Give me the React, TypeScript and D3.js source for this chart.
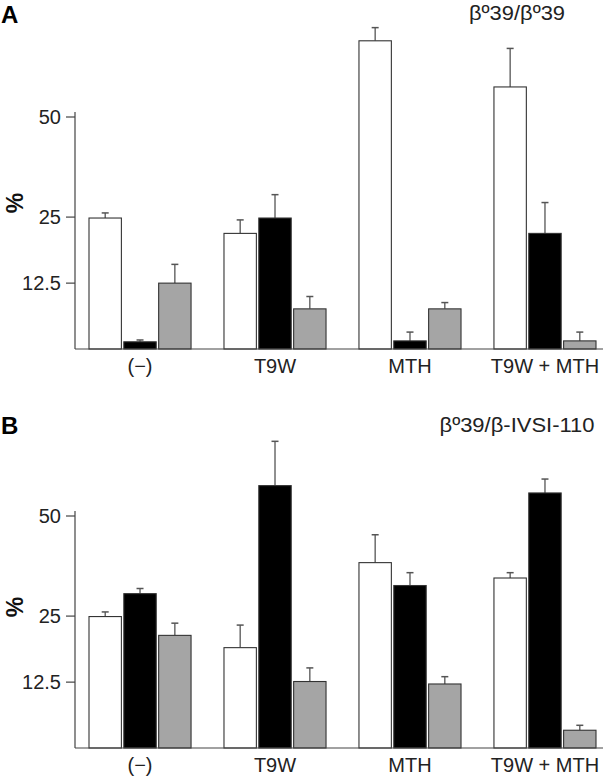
import React from "react";
import * as d3 from "d3";

const categories = ["(−)", "T9W", "MTH", "T9W + MTH"];
const seriesKeys = ["white", "black", "gray"];
const seriesColors = ["#ffffff", "#000000", "#a5a5a5"];
const tickValues = [12.5, 25, 50];
const tickLabels = ["12.5", "25", "50"];

// Panel A: β°39/β°39
const aWhite = [24.8, 21.6, 73.4, 58.8];
const aWhiteErr = [1.1, 2.8, 4.4, 12.1];
const aBlack = [4.5, 24.8, 4.6, 21.6];
const aBlackErr = [0.2, 5.2, 1.0, 6.6];
const aGray = [12.5, 8.6, 8.6, 4.6];
const aGrayErr = [3.2, 1.8, 0.9, 1.0];

// Panel B: β°39/β-IVSI-110
const bWhite = [24.9, 18.6, 37.5, 33.7];
const bWhiteErr = [1.0, 4.5, 7.3, 1.3];
const bBlack = [30.0, 58.9, 31.9, 56.7];
const bBlackErr = [1.2, 14.0, 3.1, 4.2];
const bGray = [21.0, 12.6, 12.2, 5.7];
const bGrayErr = [2.5, 2.3, 1.2, 0.6];

const panels = [
  { letter: "A", title: "β\u00BA39/β\u00BA39", titleLen: 96, values: [aWhite, aBlack, aGray], errs: [aWhiteErr, aBlackErr, aGrayErr] },
  { letter: "B", title: "β\u00BA39/β-IVSI-110", titleLen: 155, values: [bWhite, bBlack, bGray], errs: [bWhiteErr, bBlackErr, bGrayErr] },
];

const W = 608;
const H = 778;
const FONT = "'Liberation Sans', Arial, sans-serif";

function Panel({ panel, bottom, letterY, titleY, pctY }) {
  const y = d3.scalePow().exponent(0.6).domain([3.75, 50]).range([bottom, bottom - 232]);
  const x0 = d3.scaleBand().domain(categories).range([89, 596]).paddingInner(0.244).paddingOuter(0);
  const x1 = d3.scaleBand().domain(seriesKeys).range([0, x0.bandwidth()]).paddingInner(0.07);
  const axisX = 75;
  const axisColor = "#444";
  return (
    <g>
      <text x={1} y={letterY} fontFamily={FONT} fontWeight="bold" fontSize={24} fill="#000">{panel.letter}</text>
      <text x={517} y={titleY} fontFamily={FONT} fontSize={20} textAnchor="middle" fill="#222"
        textLength={panel.titleLen} lengthAdjust="spacingAndGlyphs">{panel.title}</text>
      <text transform={`translate(23,${pctY}) rotate(-90)`} fontFamily={FONT} fontWeight="bold" fontSize={23} textAnchor="middle" fill="#111">%</text>
      {/* y axis */}
      <line x1={axisX} x2={axisX} y1={y(50) - 5} y2={bottom} stroke={axisColor} strokeWidth={1.2} />
      {tickValues.map((t, i) => (
        <g key={t}>
          <line x1={axisX - 9} x2={axisX} y1={y(t)} y2={y(t)} stroke={axisColor} strokeWidth={1.2} />
          <text x={61} y={y(t)} dy="0.36em" fontFamily={FONT} fontSize={20} textAnchor="end" fill="#222">{tickLabels[i]}</text>
        </g>
      ))}
      {/* bars */}
      {categories.map((c, ci) => (
        <g key={c} transform={`translate(${x0(c)},0)`}>
          {seriesKeys.map((s, si) => {
            const v = panel.values[si][ci];
            const e = panel.errs[si][ci];
            const bx = x1(s);
            const bw = x1.bandwidth();
            const top = y(v);
            const etop = y(v + e);
            const cx = bx + bw / 2;
            return (
              <g key={s}>
                <line x1={cx} x2={cx} y1={top} y2={etop} stroke="#555" strokeWidth={1.3} />
                <line x1={cx - 3.5} x2={cx + 3.5} y1={etop} y2={etop} stroke="#555" strokeWidth={1.5} />
                <rect x={bx} y={top} width={bw} height={bottom - top} fill={seriesColors[si]} stroke="#333" strokeWidth={1.1} />
              </g>
            );
          })}
          <text x={x0.bandwidth() / 2} y={bottom + 24} fontFamily={FONT} fontSize={20} textAnchor="middle" fill="#222">{c}</text>
        </g>
      ))}
      {/* x baseline */}
      <line x1={axisX} x2={603} y1={bottom} y2={bottom} stroke={axisColor} strokeWidth={1.2} />
    </g>
  );
}

export default function App() {
  return (
    <svg width={W} height={H} viewBox={`0 0 ${W} ${H}`} style={{ position: "absolute", left: 0, top: 0, background: "#fff" }}>
      <rect x={0} y={0} width={W} height={H} fill="#fff" />
      <Panel panel={panels[0]} bottom={349} letterY={23} titleY={20} pctY={203} />
      <Panel panel={panels[1]} bottom={748} letterY={434} titleY={432} pctY={607} />
    </svg>
  );
}
